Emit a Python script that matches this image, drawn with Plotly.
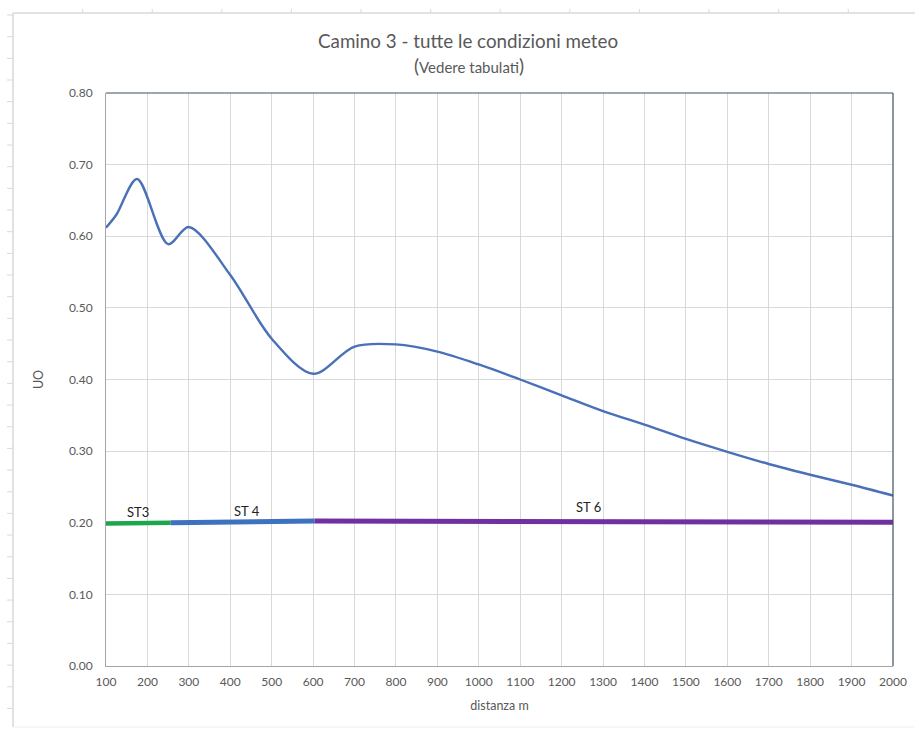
import plotly.graph_objects as go

# Concentration curve (UO) versus distance from the stack
distanza = [100, 125, 175, 250, 300, 400, 500, 600, 700, 800, 900, 1000,
            1100, 1200, 1300, 1400, 1500, 1600, 1700, 1800, 1900, 2000]
uo = [0.612, 0.630, 0.680, 0.589, 0.613, 0.546, 0.457, 0.408, 0.446, 0.449,
      0.439, 0.421, 0.400, 0.378, 0.356, 0.337, 0.317, 0.299, 0.282, 0.267,
      0.253, 0.238]

# Stability-class threshold segments
st3_x = [100, 256]
st3_y = [0.199, 0.200]
st4_x = [256, 603]
st4_y = [0.200, 0.2025]
st6_x = [603, 2000]
st6_y = [0.2025, 0.2007]

seg_labels = ["ST3", "ST 4", "ST 6"]
seg_label_x = [178, 440, 1264]
seg_label_y = [0.215, 0.2165, 0.222]

y_ticks = [0.0, 0.1, 0.2, 0.3, 0.4, 0.5, 0.6, 0.7, 0.8]
x_ticks = list(range(100, 2001, 100))

W, H = 919, 729
ML, MR, MT, MB = 105.5, 22, 93, 63
PW, PH = W - ML - MR, H - MT - MB


def px(x):
    return (x - ML) / PW


def py(y):
    return (H - MB - y) / PH


FONT = "Lato"
GREY = "#595959"

fig = go.Figure()

fig.add_trace(go.Scatter(x=st3_x, y=st3_y, mode="lines",
                         line=dict(color="#1DA64E", width=4.5),
                         showlegend=False, hoverinfo="skip"))
fig.add_trace(go.Scatter(x=st4_x, y=st4_y, mode="lines",
                         line=dict(color="#3D72BE", width=5),
                         showlegend=False, hoverinfo="skip"))
fig.add_trace(go.Scatter(x=st6_x, y=st6_y, mode="lines",
                         line=dict(color="#7030A0", width=5),
                         showlegend=False, hoverinfo="skip"))
fig.add_trace(go.Scatter(x=distanza, y=uo, mode="lines",
                         line=dict(color="#4A70B8", width=2.4, shape="spline",
                                   smoothing=0.9),
                         showlegend=False))

for t, xx, yy in zip(seg_labels, seg_label_x, seg_label_y):
    fig.add_annotation(x=xx, y=yy, text=t, showarrow=False,
                       font=dict(family=FONT, size=13, color="#222222"))

# Titles
fig.add_annotation(xref="paper", yref="paper", x=px(470), y=py(40),
                   xanchor="center", yanchor="middle",
                   text="Camino 3 - tutte le condizioni meteo", showarrow=False,
                   font=dict(family=FONT, size=18.8, color=GREY))
fig.add_annotation(xref="paper", yref="paper", x=px(471), y=py(65),
                   xanchor="center", yanchor="middle",
                   text="<span style='font-size:19px'>(</span>Vedere tabulati"
                        "<span style='font-size:19px'>)</span>",
                   showarrow=False, font=dict(family=FONT, size=15, color=GREY))

# Spreadsheet frame around the chart object
frame = "#D9D9D9"
shapes = [
    dict(type="line", xref="paper", yref="paper", x0=px(12), x1=px(919),
         y0=py(13), y1=py(13), line=dict(color=frame, width=1.5)),
    dict(type="line", xref="paper", yref="paper", x0=px(12), x1=px(12),
         y0=py(13), y1=py(727), line=dict(color=frame, width=1.5)),
    dict(type="line", xref="paper", yref="paper", x0=px(12), x1=px(919),
         y0=py(727), y1=py(727), line=dict(color="#EEEEEE", width=1)),
]
k = 0
while 15 + 21.67 * k < 727:
    yy = 15 + 21.67 * k
    shapes.append(dict(type="line", xref="paper", yref="paper",
                       x0=px(6), x1=px(12), y0=py(yy), y1=py(yy),
                       line=dict(color=frame, width=1)))
    k += 1
k = 1
while 12 + 70 * k < 919:
    xx = 12 + 70 * k
    shapes.append(dict(type="line", xref="paper", yref="paper",
                       x0=px(xx), x1=px(xx), y0=py(9), y1=py(13),
                       line=dict(color=frame, width=1)))
    k += 1
# Darker top and right borders of the plot area
shapes.append(dict(type="line", xref="paper", yref="paper", x0=0, x1=1,
                   y0=1, y1=1, line=dict(color="#3E5060", width=1.2)))
shapes.append(dict(type="line", xref="paper", yref="paper", x0=1, x1=1,
                   y0=0, y1=1, line=dict(color="#3E5060", width=1.2)))

fig.update_layout(
    width=W, height=H, autosize=False,
    margin=dict(l=ML, r=MR, t=MT, b=MB),
    paper_bgcolor="white", plot_bgcolor="white",
    shapes=shapes,
    font=dict(family=FONT, color=GREY),
    xaxis=dict(range=[100, 2000], tickvals=x_ticks,
               ticktext=[str(v) for v in x_ticks],
               showgrid=True, gridcolor="#D9D9D9", gridwidth=1,
               showline=True, linecolor="#A6A6A6", linewidth=1,
               zeroline=False, ticks="", ticklen=0, ticklabelstandoff=5,
               tickfont=dict(family=FONT, size=12, color=GREY),
               title=dict(text="distanza m", standoff=12,
                          font=dict(family=FONT, size=12.5, color=GREY))),
    yaxis=dict(range=[0, 0.8], tickvals=y_ticks,
               ticktext=[f"{v:.2f}" for v in y_ticks],
               showgrid=True, gridcolor="#D9D9D9", gridwidth=1,
               showline=True, linecolor="#A6A6A6", linewidth=1,
               zeroline=False, ticks="", ticklen=0, ticklabelstandoff=10,
               tickfont=dict(family=FONT, size=12, color=GREY),
               title=dict(text="UO", standoff=22,
                          font=dict(family=FONT, size=12.5, color=GREY))),
)

fig.write_html("out.html")
